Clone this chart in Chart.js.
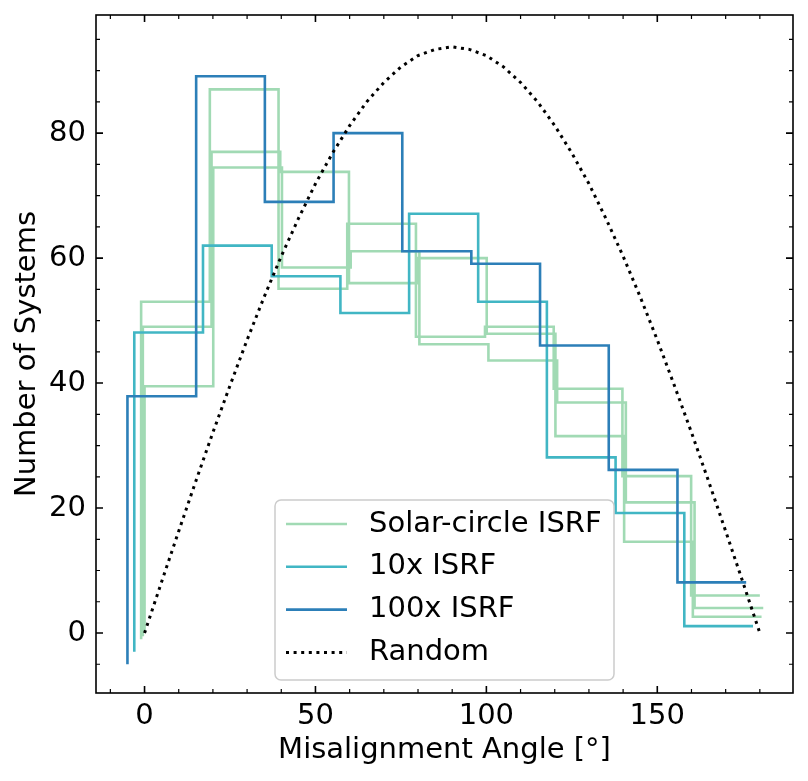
<!DOCTYPE html>
<html>
<head>
<meta charset="utf-8">
<script src="https://cdn.jsdelivr.net/npm/chart.js@4.4.1/dist/chart.umd.min.js"></script>
<style>
  html, body { margin: 0; padding: 0; background: #fff; }
  #wrap { width: 808px; height: 781px; }
</style>
</head>
<body>
<div id="wrap"><canvas id="myChart"></canvas></div>
<script>
// Histogram bin edges (degrees) shared by every run
const binEdges = [0, 20.1, 40.2, 60.3, 80.4, 100.6, 120.7, 140.8, 160.9, 181];

// Counts per bin
const solarA = [53.0, 87.0, 55.1, 65.5, 47.4, 49.0, 39.1, 25.1, 6.0];
const solarB = [49.0, 77.0, 73.8, 56.0, 60.0, 47.9, 31.5, 14.6, 2.6];
const solarC = [39.5, 74.5, 58.5, 61.1, 46.2, 43.6, 36.9, 20.9, 4.0];
const isrf10 = [48.1, 62.0, 57.1, 51.2, 67.1, 53.0, 28.1, 19.2, 1.1];
const isrf100 = [37.9, 89.1, 69.0, 80.0, 61.1, 59.1, 46.0, 26.1, 8.1];

// small horizontal shifts so the runs don't sit on top of each other
const solarOffsets = [-1, -0.5, 0];
const isrf10Offset = -3;
const isrf100Offset = -5;

// Random orientation curve
const randomX = [0, 5, 10, 15, 20, 25, 30, 35, 40, 45, 50, 55, 60, 65, 70, 75, 80, 85, 90,
                 95, 100, 105, 110, 115, 120, 125, 130, 135, 140, 145, 150, 155, 160, 165, 170, 175, 180];
const randomY = [0, 8.2, 16.3, 24.3, 32.1, 39.6, 46.9, 53.8, 60.3, 66.3, 71.9, 76.8, 81.2, 85.0, 88.1, 90.6, 92.4, 93.4, 93.8,
                 93.4, 92.4, 90.6, 88.1, 85.0, 81.2, 76.8, 71.9, 66.3, 60.3, 53.8, 46.9, 39.6, 32.1, 24.3, 16.3, 8.2, 0];

// Axis ticks
const xMajorTicks = [0, 50, 100, 150];
const xMinorTicks = [-10, 10, 20, 30, 40, 60, 70, 80, 90, 110, 120, 130, 140, 160, 170, 180];
const yMajorTicks = [0, 20, 40, 60, 80];
const yMinorTicks = [-5, 5, 10, 15, 25, 30, 35, 45, 50, 55, 65, 70, 75, 85, 90, 95];

const legendLabels = ['Solar-circle ISRF', '10x ISRF', '100x ISRF', 'Random'];

const colGreen = '#a1dab4';
const colCyan = '#41b6c4';
const colBlue = '#2c7fb8';
const FONT = "'DejaVu Sans', sans-serif";
const LW = 2.6;

// turn bin counts into a step outline
function stepPoints(values, offset) {
  const pts = [{ x: binEdges[0] + offset, y: offset }];
  values.forEach((v, i) => pts.push({ x: binEdges[i] + offset, y: v }));
  pts.push({ x: binEdges[binEdges.length - 1] + offset, y: values[values.length - 1] });
  return pts;
}

function stepDataset(values, offset, color, order) {
  return {
    data: stepPoints(values, offset),
    borderColor: color,
    borderWidth: LW,
    stepped: true,
    pointRadius: 0,
    fill: false,
    order: order
  };
}

const datasets = [
  {
    data: randomX.map((x, i) => ({ x: x, y: randomY[i] })),
    borderColor: '#000',
    borderWidth: 3,
    borderDash: [3, 4.6],
    borderCapStyle: 'butt',
    pointRadius: 0,
    fill: false,
    tension: 0,
    order: 0
  },
  stepDataset(isrf100, isrf100Offset, colBlue, 1),
  stepDataset(isrf10, isrf10Offset, colCyan, 2),
  stepDataset(solarA, solarOffsets[0], colGreen, 3),
  stepDataset(solarB, solarOffsets[1], colGreen, 4),
  stepDataset(solarC, solarOffsets[2], colGreen, 5)
];

// inward ticks on all four sides plus the frame
const frameTicks = {
  id: 'frameTicks',
  afterDatasetsDraw(chart) {
    const ctx = chart.ctx;
    const a = chart.chartArea;
    const xs = chart.scales.x, ys = chart.scales.y;
    ctx.save();
    ctx.strokeStyle = '#000';
    function tickSet(vals, len, w) {
      ctx.lineWidth = w;
      ctx.beginPath();
      vals.forEach(v => {
        const px = xs.getPixelForValue(v);
        if (px < a.left || px > a.right) return;
        ctx.moveTo(px, a.bottom); ctx.lineTo(px, a.bottom - len);
        ctx.moveTo(px, a.top); ctx.lineTo(px, a.top + len);
      });
      ctx.stroke();
    }
    function tickSetY(vals, len, w) {
      ctx.lineWidth = w;
      ctx.beginPath();
      vals.forEach(v => {
        const py = ys.getPixelForValue(v);
        if (py < a.top || py > a.bottom) return;
        ctx.moveTo(a.left, py); ctx.lineTo(a.left + len, py);
        ctx.moveTo(a.right, py); ctx.lineTo(a.right - len, py);
      });
      ctx.stroke();
    }
    tickSet(xMajorTicks, 7, 1.6);
    tickSet(xMinorTicks, 4, 1.2);
    tickSetY(yMajorTicks, 7, 1.6);
    tickSetY(yMinorTicks, 4, 1.2);
    ctx.lineWidth = 1.6;
    ctx.strokeRect(a.left, a.top, a.right - a.left, a.bottom - a.top);
    ctx.restore();
  }
};

// matplotlib-like legend box inside the axes
const boxLegend = {
  id: 'boxLegend',
  afterDraw(chart) {
    const ctx = chart.ctx;
    const left = 275, top = 500, w = 339, h = 180, r = 6;
    ctx.save();
    ctx.fillStyle = 'rgba(255,255,255,0.8)';
    ctx.strokeStyle = '#cccccc';
    ctx.lineWidth = 1.5;
    ctx.beginPath();
    ctx.roundRect(left, top, w, h, r);
    ctx.fill();
    ctx.stroke();
    const colors = [colGreen, colCyan, colBlue, '#000'];
    ctx.font = '29px ' + FONT;
    ctx.textBaseline = 'middle';
    ctx.fillStyle = '#000';
    legendLabels.forEach((lab, i) => {
      const y = top + 24 + i * 42.8;
      ctx.beginPath();
      ctx.strokeStyle = colors[i];
      if (i === 3) {
        ctx.lineWidth = 3;
        ctx.setLineDash([3, 4.6]);
      } else {
        ctx.lineWidth = LW;
        ctx.setLineDash([]);
      }
      ctx.moveTo(286, y);
      ctx.lineTo(347, y);
      ctx.stroke();
      ctx.fillText(lab, 369, y);
    });
    ctx.restore();
  }
};

function noPad(s) {
  s.paddingTop = 0; s.paddingBottom = 0; s.paddingLeft = 0; s.paddingRight = 0;
}

const ctx = document.getElementById('myChart').getContext('2d');
const chart = new Chart(ctx, {
  type: 'line',
  data: { datasets: datasets },
  plugins: [frameTicks, boxLegend],
  options: {
    responsive: true,
    maintainAspectRatio: false,
    animation: false,
    layout: { padding: { left: 0, top: 15, right: 15, bottom: 0 } },
    plugins: { legend: { display: false }, tooltip: { enabled: false } },
    scales: {
      x: {
        type: 'linear',
        min: -14.2,
        max: 189.7,
        afterBuildTicks: s => { s.ticks = xMajorTicks.map(v => ({ value: v })); },
        afterFit: s => { s.height = 88; noPad(s); },
        grid: { display: false, drawTicks: false },
        border: { display: false },
        ticks: { color: '#000', font: { family: FONT, size: 29 }, padding: 6, maxRotation: 0 },
        title: {
          display: true,
          text: 'Misalignment Angle [°]',
          color: '#000',
          font: { family: FONT, size: 29, lineHeight: 1.2 },
          padding: { top: 0, bottom: 13 }
        }
      },
      y: {
        min: -9.6,
        max: 98.9,
        afterBuildTicks: s => { s.ticks = yMajorTicks.map(v => ({ value: v })); },
        afterFit: s => { s.width = 96; noPad(s); },
        grid: { display: false, drawTicks: false },
        border: { display: false },
        ticks: { color: '#000', font: { family: FONT, size: 29 }, padding: 10 },
        title: {
          display: true,
          text: 'Number of Systems',
          color: '#000',
          font: { family: FONT, size: 29, lineHeight: 1.2 },
          padding: { top: 10, bottom: 0 }
        }
      }
    }
  }
});
</script>
</body>
</html>
